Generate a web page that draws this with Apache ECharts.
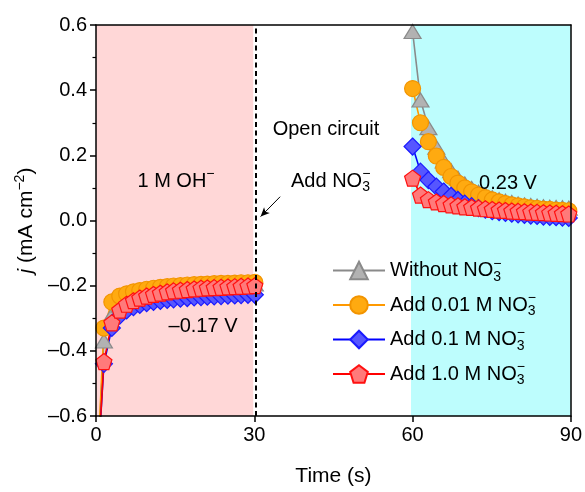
<!DOCTYPE html>
<html>
<head>
<meta charset="utf-8">
<script src="https://cdn.jsdelivr.net/npm/echarts@6/dist/echarts.min.js"></script>
<style>
  html, body { margin: 0; padding: 0; background: #fff; }
  #chart { width: 585px; height: 492px; }
</style>
</head>
<body>
<div id="chart"></div>
<script>
const FONT = '"Liberation Sans", Arial, Helvetica, sans-serif';

// Step 1: cathodic hold at -0.17 V (0-30 s)
const timeCathodic = [0, 1.5, 3, 4.5, 5.8, 7.1, 8.3, 9.6, 10.9, 12.2, 13.5, 14.7, 16, 17.3, 18.6, 19.9, 21.1, 22.4, 23.7, 25, 26.3, 27.5, 28.8, 30.1];
// Step 2: hold at 0.23 V after the open-circuit period (60-90 s)
const timeAnodic = [60, 61.5, 63, 64.5, 65.9, 67.3, 68.6, 69.9, 71.2, 72.5, 73.8, 75.1, 76.4, 77.6, 78.8, 80, 81.2, 82.4, 83.6, 84.8, 86, 87.2, 88.4, 89.6];

// Current density, mA cm^-2
const withoutCathodic = [-0.85, -0.37, -0.29, -0.26, -0.243, -0.232, -0.225, -0.219, -0.215, -0.212, -0.209, -0.207, -0.205, -0.203, -0.202, -0.201, -0.2, -0.199, -0.198, -0.197, -0.196, -0.196, -0.195, -0.195];
const withoutAnodic = [0.58, 0.37, 0.285, 0.225, 0.183, 0.153, 0.13, 0.112, 0.098, 0.087, 0.078, 0.07, 0.064, 0.059, 0.055, 0.051, 0.048, 0.046, 0.044, 0.042, 0.041, 0.04, 0.039, 0.038];

const add001Cathodic = [-0.85, -0.33, -0.25, -0.232, -0.225, -0.219, -0.215, -0.211, -0.208, -0.205, -0.203, -0.201, -0.2, -0.198, -0.197, -0.196, -0.195, -0.194, -0.193, -0.193, -0.192, -0.191, -0.191, -0.19];
const add001Anodic = [0.405, 0.3, 0.242, 0.198, 0.163, 0.135, 0.115, 0.1, 0.088, 0.078, 0.07, 0.063, 0.057, 0.052, 0.048, 0.045, 0.042, 0.039, 0.037, 0.035, 0.034, 0.032, 0.031, 0.03];

const add01Cathodic = [-0.85, -0.44, -0.33, -0.292, -0.276, -0.266, -0.259, -0.254, -0.25, -0.247, -0.244, -0.242, -0.24, -0.238, -0.236, -0.235, -0.234, -0.233, -0.232, -0.231, -0.23, -0.229, -0.228, -0.228];
const add01Anodic = [0.227, 0.15, 0.124, 0.104, 0.089, 0.076, 0.063, 0.052, 0.044, 0.038, 0.033, 0.029, 0.026, 0.023, 0.021, 0.019, 0.017, 0.015, 0.014, 0.012, 0.011, 0.01, 0.009, 0.008];

const add10Cathodic = [-0.85, -0.433, -0.314, -0.275, -0.257, -0.246, -0.238, -0.232, -0.227, -0.223, -0.219, -0.216, -0.214, -0.212, -0.21, -0.208, -0.207, -0.206, -0.205, -0.204, -0.203, -0.202, -0.201, -0.2];
const add10Anodic = [0.13, 0.078, 0.064, 0.057, 0.052, 0.048, 0.045, 0.042, 0.04, 0.038, 0.036, 0.034, 0.032, 0.031, 0.029, 0.028, 0.027, 0.026, 0.025, 0.024, 0.023, 0.022, 0.021, 0.02];

const seriesNames = ['Without NO3-', 'Add 0.01 M NO3-', 'Add 0.1 M NO3-', 'Add 1.0 M NO3-'];
const legendLabels = {
  'Without NO3-': 'Without NO{sp|−}{sb|3}',
  'Add 0.01 M NO3-': 'Add 0.01 M NO{sp|−}{sb|3}',
  'Add 0.1 M NO3-': 'Add 0.1 M NO{sp|−}{sb|3}',
  'Add 1.0 M NO3-': 'Add 1.0 M NO{sp|−}{sb|3}'
};

const xTicks = { min: 0, max: 90, step: 30 };
const yTicks = { min: -0.6, max: 0.6, step: 0.2 };

// Phase shading and event markers (time in s)
const cathodicWindow = [0, 29.8];
const anodicWindow = [59.7, 90];
const additionTime = 30.3;

const pentagon = 'path://M0,-10 L9.511,-3.09 L5.878,8.09 L-5.878,8.09 L-9.511,-3.09 Z';

const styles = [
  { symbol: 'triangle', size: [17, 14], line: '#8a8a8a', fill: '#b2b2b2', border: '#8a8a8a' },
  { symbol: 'circle', size: 16, line: '#ff9900', fill: '#ffaa10', border: '#f29400' },
  { symbol: 'diamond', size: 17, line: '#0000ff', fill: '#5656ff', border: '#1a1aff' },
  { symbol: pentagon, size: 16, line: '#ff0000', fill: '#ff7a7a', border: '#ff1010' }
];

const dataSets = [
  [withoutCathodic, withoutAnodic],
  [add001Cathodic, add001Anodic],
  [add01Cathodic, add01Anodic],
  [add10Cathodic, add10Anodic]
];

function pairs(times, values) {
  return times.map((t, i) => [t, values[i]]);
}

const richSmall = {
  sp: { fontSize: 14, fontFamily: FONT, color: '#000', padding: [0, 0, 13, 0], width: 0 },
  sb: { fontSize: 14, fontFamily: FONT, color: '#000', padding: [13, 0, 0, 0] },
  up: { fontSize: 14, fontFamily: FONT, color: '#000', padding: [0, 0, 13, 0] },
  it: { fontSize: 21, fontFamily: FONT, fontStyle: 'italic', color: '#000' }
};

const series = [];

// Phase backgrounds and the dashed marker at the nitrate addition
series.push({
  type: 'line', data: [], z: 1, silent: true,
  markArea: {
    silent: true,
    data: [
      [{ xAxis: cathodicWindow[0], itemStyle: { color: '#ffd7d7' } }, { xAxis: cathodicWindow[1] }],
      [{ xAxis: anodicWindow[0], itemStyle: { color: '#bdfdfd' } }, { xAxis: anodicWindow[1] }]
    ]
  },
  markLine: {
    silent: true, symbol: ['none', 'none'], label: { show: false },
    lineStyle: { color: '#000', width: 2, type: [5, 3.5] },
    data: [{ xAxis: additionTime }]
  }
});

// Small arrow pointing at the addition line
series.push({
  type: 'line', data: [], z: 3, silent: true,
  markLine: {
    silent: true, symbol: ['none', 'arrow'], symbolSize: [6, 9], label: { show: false },
    lineStyle: { color: '#000', width: 1, type: 'solid' },
    data: [[{ coord: [34.9, 0.073] }, { coord: [31.2, 0.012] }]]
  }
});

seriesNames.forEach((name, k) => {
  const st = styles[k];
  [[timeCathodic, dataSets[k][0]], [timeAnodic, dataSets[k][1]]].forEach(([t, v]) => {
    series.push({
      name,
      type: 'line',
      data: pairs(t, v),
      z: 2,
      clip: true,
      symbol: st.symbol,
      symbolSize: st.size,
      showAllSymbol: true,
      lineStyle: { color: st.line, width: 1.6 },
      itemStyle: { color: st.fill, borderColor: st.border, borderWidth: 1.2 },
      emphasis: { disabled: true },
      animation: false
    });
  });
});

const axisCommon = {
  axisLine: { show: true, onZero: false, lineStyle: { color: '#000', width: 1.5 } },
  splitLine: { show: false },
  z: 10
};

const chart = echarts.init(document.getElementById('chart'), null, { renderer: 'canvas' });
chart.setOption({
  animation: false,
  backgroundColor: '#fff',
  grid: { left: 96, right: 13, top: 25, bottom: 76, containLabel: false },
  legend: {
    data: seriesNames,
    orient: 'vertical',
    left: 327,
    top: 252,
    itemWidth: 52,
    itemHeight: 22,
    itemGap: 7.5,
    selectedMode: false,
    formatter: name => legendLabels[name],
    textStyle: { fontSize: 20, fontFamily: FONT, color: '#000', rich: richSmall }
  },
  xAxis: [
    Object.assign({
      type: 'value', min: xTicks.min, max: xTicks.max, interval: xTicks.step,
      name: 'Time (s)', nameLocation: 'middle', nameGap: 50,
      nameTextStyle: { fontSize: 21, fontFamily: FONT, color: '#000' },
      axisTick: { show: true, inside: false, length: 6, lineStyle: { color: '#000', width: 1.5 } },
      axisLabel: { fontSize: 20, fontFamily: FONT, color: '#000', margin: 9 }
    }, axisCommon),
    Object.assign({
      type: 'value', position: 'top', min: xTicks.min, max: xTicks.max, interval: xTicks.step,
      axisTick: { show: false }, axisLabel: { show: false }
    }, axisCommon)
  ],
  yAxis: [
    Object.assign({
      type: 'value', min: yTicks.min, max: yTicks.max, interval: yTicks.step,
      name: '{it|j} (mA cm{up|−2})', nameLocation: 'middle', nameGap: 56, nameRotate: 90,
      nameTextStyle: { fontSize: 21, fontFamily: FONT, color: '#000', rich: richSmall },
      axisTick: { show: true, inside: false, length: 6, lineStyle: { color: '#000', width: 1.5 } },
      minorTick: { show: true, splitNumber: 2, length: 3.5, lineStyle: { color: '#000', width: 1.2 } },
      axisLabel: {
        fontSize: 20, fontFamily: FONT, color: '#000', margin: 9,
        formatter: v => (Math.abs(v) < 1e-9 ? '0.0' : (v < 0 ? '–' : '') + Math.abs(v).toFixed(1))
      }
    }, axisCommon),
    Object.assign({
      type: 'value', position: 'right', min: yTicks.min, max: yTicks.max, interval: yTicks.step,
      axisTick: { show: false }, axisLabel: { show: false }
    }, axisCommon)
  ],
  graphic: [
    { type: 'text', x: 176, y: 181, z: 20, style: { text: '1 M OH{up|−}', rich: richSmall, font: '20px ' + FONT, fill: '#000', align: 'center', verticalAlign: 'middle' } },
    { type: 'text', x: 203, y: 326, z: 20, style: { text: '–0.17 V', font: '20px ' + FONT, fill: '#000', align: 'center', verticalAlign: 'middle' } },
    { type: 'text', x: 326, y: 129, z: 20, style: { text: 'Open circuit', font: '20px ' + FONT, fill: '#000', align: 'center', verticalAlign: 'middle' } },
    { type: 'text', x: 291, y: 181, z: 20, style: { text: 'Add NO{sp|−}{sb|3}', rich: richSmall, font: '20px ' + FONT, fill: '#000', align: 'left', verticalAlign: 'middle' } },
    { type: 'text', x: 508, y: 183, z: 20, style: { text: '0.23 V', font: '20px ' + FONT, fill: '#000', align: 'center', verticalAlign: 'middle' } }
  ],
  series
});
</script>
</body>
</html>
